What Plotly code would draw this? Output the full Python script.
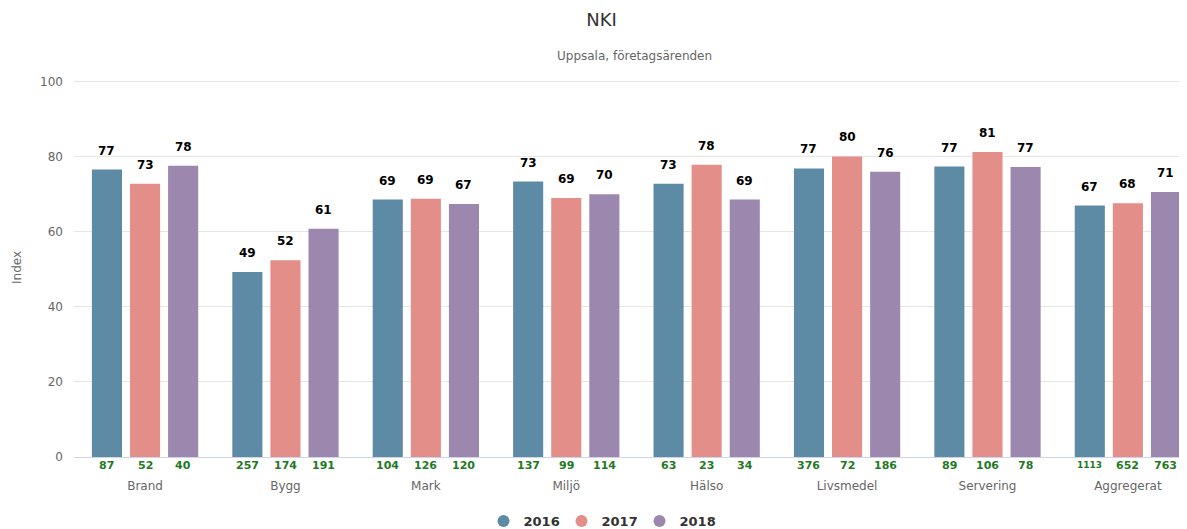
import plotly.graph_objects as go

categories = ["Brand", "Bygg", "Mark", "Miljö", "Hälso", "Livsmedel", "Servering", "Aggregerat"]
years = ["2016", "2017", "2018"]
nki_2016 = [76.6, 49.3, 68.6, 73.4, 72.8, 76.9, 77.4, 67.0]
nki_2017 = [72.8, 52.4, 68.8, 69.0, 77.9, 80.1, 81.3, 67.6]
nki_2018 = [77.6, 60.8, 67.4, 70.0, 68.6, 76.0, 77.3, 70.6]
n_2016 = [87, 257, 104, 137, 63, 376, 89, 1113]
n_2017 = [52, 174, 126, 99, 23, 72, 106, 652]
n_2018 = [40, 191, 120, 114, 34, 186, 78, 763]
colors = ["#5d8aa4", "#e48e89", "#9c87ae"]

values = [nki_2016, nki_2017, nki_2018]
counts = [n_2016, n_2017, n_2018]

bargap = 0.186
bargroupgap = 0.21
font = "DejaVu Sans, Verdana, sans-serif"

W, H = 1187, 529
YMAX = 101
T, B, L = 70, 80, 66
plot_h = H - T - B

fig = go.Figure()
xs = list(range(len(categories)))
for j, (yr, vals, col) in enumerate(zip(years, values, colors)):
    fig.add_trace(go.Bar(
        x=xs, y=vals, name=yr, marker=dict(color=col, line=dict(width=0)),
        showlegend=False, hoverinfo="x+y",
    ))
    fig.add_trace(go.Scatter(
        x=[None], y=[None], mode="markers", name=yr,
        marker=dict(color=col, size=14, symbol="circle"),
    ))

slot = (1 - bargap) / 3
anns = []
for j, (vals, cnt) in enumerate(zip(values, counts)):
    for i, (v, c) in enumerate(zip(vals, cnt)):
        xpos = i + (j - 1) * slot
        anns.append(dict(
            x=xpos, y=v, xref="x", yref="y", yanchor="middle",
            yshift=19, text=f"{v:.0f}", showarrow=False,
            font=dict(family=font, size=12, color="#000000", weight="bold"),
        ))
        anns.append(dict(
            x=xpos, y=0, xref="x", yref="y",
            yshift=-8, text=str(c), showarrow=False,
            font=dict(family=font, size=11 if c < 1000 else 9, color="#1f7a1f", weight="bold"),
        ))
anns.append(dict(
    text="Uppsala, företagsärenden", x=0.5, xref="paper",
    y=1 + (T - 48) / plot_h, yref="paper", yanchor="middle", showarrow=False,
    font=dict(family=font, size=12, color="#666666"),
))

fig.update_layout(
    width=W, height=H,
    paper_bgcolor="white", plot_bgcolor="white",
    margin=dict(l=L, r=0, t=T, b=B, autoexpand=False),
    barmode="group", bargap=bargap, bargroupgap=bargroupgap,
    title=dict(text="NKI", x=0.5, xanchor="center", y=1 - 12 / H, yanchor="middle",
               font=dict(family=font, size=18, color="#333333")),
    font=dict(family=font),
    legend=dict(orientation="h", xref="container", x=592.5 / W, xanchor="center",
                yref="container", y=1 - 513 / H, yanchor="middle",
                font=dict(family=font, size=13, color="#333333", weight="bold"),
                itemsizing="constant", entrywidth=33),
    annotations=anns,
)

fig.update_xaxes(
    tickvals=xs, ticktext=categories, range=[-0.506, 7.478],
    showgrid=False, showline=True, linecolor="#ccd6eb", linewidth=1,
    ticks="", ticklabelstandoff=18, automargin=False,
    tickfont=dict(family=font, size=12, color="#666666"),
)
fig.update_yaxes(
    range=[0, YMAX], tickvals=[0, 20, 40, 60, 80, 100],
    showgrid=True, gridcolor="#e6e6e6", zeroline=False, automargin=False,
    ticklabelstandoff=10,
    title=dict(text="Index", font=dict(family=font, size=12, color="#666666"), standoff=15),
    tickfont=dict(family=font, size=12, color="#666666"),
)

fig.write_html("out.html")
